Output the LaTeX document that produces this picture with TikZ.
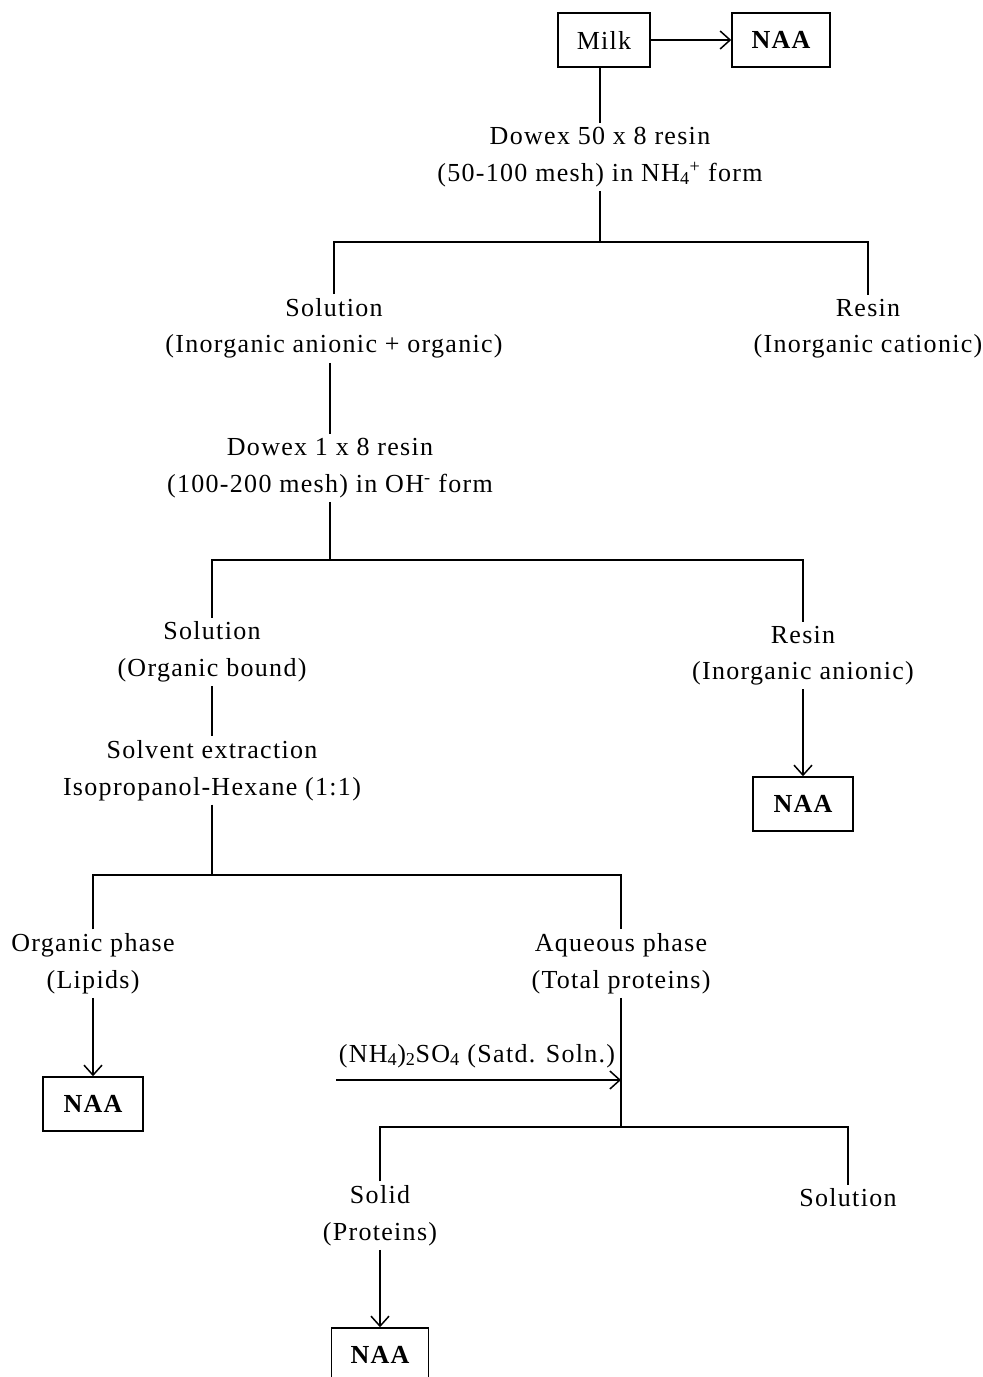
\documentclass[tikz,border=0pt]{standalone}
\usepackage{fontspec}
\setmainfont{Liberation Serif}[LetterSpace=5]
\usetikzlibrary{arrows.meta}
\begin{document}
\begin{tikzpicture}[x=1pt,y=-1pt,
  ln/.style={line width=1.5pt},
  arr/.style={line width=1.5pt,-{Straight Barb[length=10pt,width=18pt,line width=1.5pt]}},
  txt/.style={align=center,inner sep=4pt,font=\fontsize{26}{36.5}\selectfont},
  boxnode/.style={draw,line width=1.5pt,minimum height=54pt,inner sep=0pt,font=\fontsize{26}{30}\selectfont}]
\useasboundingbox (0,0) rectangle (983,1377);
\clip (0,0) rectangle (983,1377);
% nodes
\node[boxnode,minimum width=92pt] (milk) at (604,40) {Milk};
\node[boxnode,minimum width=98pt,font=\fontsize{26}{30}\selectfont\bfseries] (naa1) at (781,40) {NAA};
\node[txt] (dowexa) at (600,157) {Dowex 50 x 8 resin\\(50-100 mesh) in NH\textsubscript{4}\textsuperscript{+} form};
\node[txt] (sola) at (334,328.5) {Solution\\(Inorganic anionic + organic)};
\node[txt] (resa) at (868,328.5) {Resin\\(Inorganic cationic)};
\node[txt] (dowexb) at (330,468) {Dowex 1 x 8 resin\\(100-200 mesh) in OH\textsuperscript{-} form};
\node[txt] (solb) at (212,652) {Solution\\(Organic bound)};
\node[txt] (resb) at (803,655.5) {Resin\\(Inorganic anionic)};
\node[boxnode,minimum width=100pt,font=\fontsize{26}{30}\selectfont\bfseries] (naa2) at (803,804) {NAA};
\node[txt] (solv) at (212,770.5) {Solvent extraction\\Isopropanol-Hexane (1:1)};
\node[txt] (org) at (93,963.5) {Organic phase\\(Lipids)};
\node[txt] (aq) at (621,963.5) {Aqueous phase\\(Total proteins)};
\node[boxnode,minimum width=100pt,font=\fontsize{26}{30}\selectfont\bfseries] (naa3) at (93,1104) {NAA};
\node[txt] (reag) at (477,1056) {(NH\textsubscript{4})\textsubscript{2}SO\textsubscript{4} (Satd. Soln.)};
\node[txt] (solid) at (380,1215.5) {Solid\\(Proteins)};
\node[txt] (solc) at (848,1198) {Solution};
\node[boxnode,minimum width=97pt,font=\fontsize{26}{30}\selectfont\bfseries] (naa4) at (380,1355) {NAA};
% coordinates
\coordinate (ba) at (600,242);
\coordinate (bb) at (330,560);
\coordinate (bc) at (212,875);
\coordinate (bd) at (621,1127);
\coordinate (ra) at (336,1080);
\coordinate (rb) at (621,1080);
% connectors
\draw[arr] (milk.east) -- (naa1.west);
\draw[ln] (dowexa.north |- milk.south) -- (dowexa.north);
\draw[ln] (dowexa.south) -- (ba);
\draw[ln] (sola.north) |- (ba) -| (resa.north);
\draw[ln] (dowexb.north |- sola.south) -- (dowexb.north);
\draw[ln] (dowexb.south) -- (bb);
\draw[ln] (solb.north) |- (bb) -| (resb.north);
\draw[arr] (resb.south) -- (naa2.north);
\draw[ln] (solb.south) -- (solv.north);
\draw[ln] (solv.south) -- (bc);
\draw[ln] (org.north) |- (bc) -| (aq.north);
\draw[arr] (org.south) -- (naa3.north);
\draw[ln] (aq.south) -- (bd);
\draw[arr] (ra) -- (rb);
\draw[ln] (solid.north) |- (bd) -| (solc.north);
\draw[arr] (solid.south) -- (naa4.north);
\end{tikzpicture}
\end{document}
